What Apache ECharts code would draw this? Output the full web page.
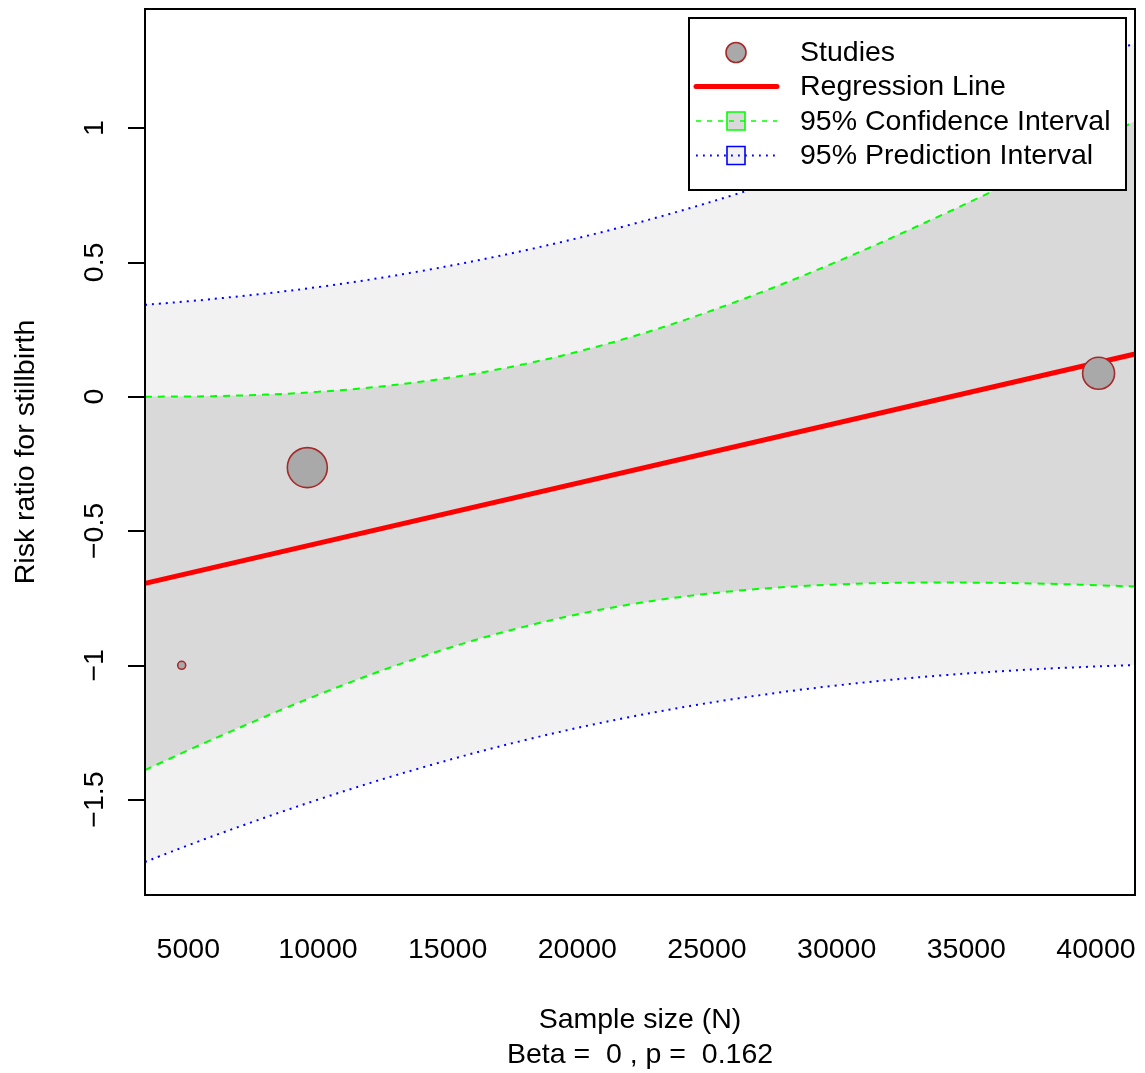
<!DOCTYPE html>
<html>
<head>
<meta charset="utf-8">
<script src="https://cdn.jsdelivr.net/npm/echarts@6/dist/echarts.min.js"></script>
<style>
html,body{margin:0;padding:0;background:#ffffff;}
#chart{width:1145px;height:1073px;}
</style>
</head>
<body>
<div id="chart"></div>
<script>
// ---- data ----
const xTicks = [5000, 10000, 15000, 20000, 25000, 30000, 35000, 40000];
const yTicks = [-1.5, -1, -0.5, 0, 0.5, 1];

const studyN = [4745, 9589, 40100];
const studyRR = [-1.0, -0.264, 0.087];
const studyWeight = [0.2, 1.0, 0.8];

const regN = [3330, 41504];
const regRR = [-0.695, 0.159];

const bandN = [3330, 6000, 10000, 14000, 18000, 22000, 26000, 30000, 34000, 38000, 41504];
const ciUpper = [0.000, 0.002, 0.018, 0.056, 0.122, 0.220, 0.349, 0.502, 0.674, 0.857, 1.025];
const ciLower = [-1.390, -1.273, -1.110, -0.968, -0.855, -0.774, -0.724, -0.699, -0.692, -0.696, -0.707];
const piUpper = [0.342, 0.364, 0.408, 0.468, 0.545, 0.639, 0.750, 0.878, 1.020, 1.174, 1.317];
const piLower = [-1.732, -1.634, -1.500, -1.381, -1.278, -1.193, -1.126, -1.075, -1.038, -1.013, -0.999];

const xName = 'Sample size (N)';
const xSub = 'Beta =  0 , p =  0.162';
const yName = 'Risk ratio for stillbirth';
const legendNames = ['Studies', 'Regression Line', '95% Confidence Interval', '95% Prediction Interval'];

// ---- layout ----
const FONT = "'Liberation Sans', Arial, Helvetica, sans-serif";
const FS = 28.5;
const G = {left: 145, top: 9, width: 990, height: 886};
const xMin = 3330, xMax = 41504, yMin = -1.855, yMax = 1.443;

const zip = (a, b) => a.map((v, i) => [v, b[i]]);

function bandSeries(name, ys, fill, lineColor, dash, lw) {
  return {
    name: name,
    type: 'line',
    data: zip(bandN, ys),
    smooth: 0.35,
    showSymbol: false,
    symbol: 'none',
    silent: true,
    lineStyle: {color: lineColor, width: lw, type: dash, cap: 'butt'},
    areaStyle: {color: fill, opacity: 1, origin: 'start'},
    clip: true,
    animation: false
  };
}

const chart = echarts.init(document.getElementById('chart'), null, {renderer: 'canvas'});

const lgX = 689, lgY = 18, lgW = 437, lgH = 172;
const rowY = [53.5, 87.5, 122, 156.5];
const symX = 736, lineX0 = 696, lineX1 = 777, textX = 800;

const option = {
  animation: false,
  backgroundColor: '#ffffff',
  textStyle: {fontFamily: FONT},
  grid: {left: G.left, top: G.top, width: G.width, height: G.height, show: false,
    containLabel: false, outerBoundsMode: 'none'},
  xAxis: {
    type: 'value',
    min: xMin, max: xMax,
    splitLine: {show: false},
    axisLine: {show: false},
    axisTick: {show: true, length: 17, customValues: xTicks, lineStyle: {color: '#000', width: 2}},
    axisLabel: {show: true, customValues: xTicks, margin: 41, fontSize: FS, color: '#000', fontFamily: FONT,
      formatter: v => String(v)},
    name: xName + '\n' + xSub,
    nameLocation: 'middle',
    nameGap: 108,
    nameTextStyle: {fontSize: FS, color: '#000', fontFamily: FONT, lineHeight: 35, align: 'center'}
  },
  yAxis: {
    type: 'value',
    min: yMin, max: yMax,
    splitLine: {show: false},
    axisLine: {show: false},
    axisTick: {show: true, length: 17, customValues: yTicks, lineStyle: {color: '#000', width: 2}},
    axisLabel: {show: true, customValues: yTicks, rotate: 90, margin: 35, fontSize: FS, color: '#000', fontFamily: FONT,
      formatter: v => String(v).replace('-', '\u2212')},
    name: yName,
    nameLocation: 'middle',
    nameGap: 104,
    nameRotate: 90,
    nameTextStyle: {fontSize: FS, color: '#000', fontFamily: FONT}
  },
  series: [
    bandSeries('PI upper', piUpper, '#f2f2f2', '#0000ff', [2, 5], 2),
    bandSeries('CI upper', ciUpper, '#d9d9d9', '#00ff00', [7, 6], 2),
    bandSeries('CI lower', ciLower, '#f2f2f2', '#00ff00', [7, 6], 2),
    bandSeries('PI lower', piLower, '#ffffff', '#0000ff', [2, 5], 2),
    {
      name: 'Regression Line',
      type: 'line',
      data: zip(regN, regRR),
      showSymbol: false,
      symbol: 'none',
      lineStyle: {color: '#ff0000', width: 5},
      z: 5,
      animation: false
    },
    {
      name: 'Studies',
      type: 'scatter',
      data: studyN.map((n, i) => [n, studyRR[i], studyWeight[i]]),
      symbol: 'circle',
      symbolSize: d => 40 * d[2],
      itemStyle: {color: '#a9a9a9', borderColor: '#a52a2a', borderWidth: 1.6, opacity: 1},
      z: 6,
      animation: false
    }
  ],
  graphic: [
    {type: 'rect', z: 100, silent: true, shape: {x: G.left, y: G.top, width: G.width, height: G.height},
      style: {fill: null, stroke: '#000', lineWidth: 2}},
    {type: 'rect', z: 100, silent: true, shape: {x: lgX, y: lgY, width: lgW, height: lgH},
      style: {fill: '#fff', stroke: '#000', lineWidth: 2}},
    {type: 'circle', z: 101, silent: true, shape: {cx: symX, cy: rowY[0] - 1, r: 10},
      style: {fill: '#a9a9a9', stroke: '#a52a2a', lineWidth: 1.6}},
    {type: 'line', z: 101, silent: true, shape: {x1: lineX0, y1: rowY[1] - 1, x2: lineX1, y2: rowY[1] - 1},
      style: {stroke: '#ff0000', lineWidth: 5, lineCap: 'round'}},
    {type: 'rect', z: 101, silent: true, shape: {x: symX - 9, y: rowY[2] - 10, width: 18, height: 18},
      style: {fill: '#d9d9d9', stroke: '#00ff00', lineWidth: 1.6}},
    {type: 'line', z: 102, silent: true, shape: {x1: lineX0, y1: rowY[2] - 1, x2: lineX1, y2: rowY[2] - 1},
      style: {stroke: '#00ff00', lineWidth: 1.6, lineDash: [5, 6]}},
    {type: 'rect', z: 101, silent: true, shape: {x: symX - 9, y: rowY[3] - 10, width: 18, height: 18},
      style: {fill: '#f2f2f2', stroke: '#0000ff', lineWidth: 1.6}},
    {type: 'line', z: 102, silent: true, shape: {x1: lineX0, y1: rowY[3] - 1, x2: lineX1, y2: rowY[3] - 1},
      style: {stroke: '#0000ff', lineWidth: 1.8, lineDash: [1.8, 5.2]}},
  ].concat(legendNames.map((t, i) => ({
    type: 'text', z: 103, silent: true, x: textX, y: rowY[i],
    style: {text: t, fill: '#000', font: FS + 'px ' + FONT, textVerticalAlign: 'middle', verticalAlign: 'middle', textAlign: 'left'}
  })))
};
chart.setOption(option);
</script>
</body>
</html>
